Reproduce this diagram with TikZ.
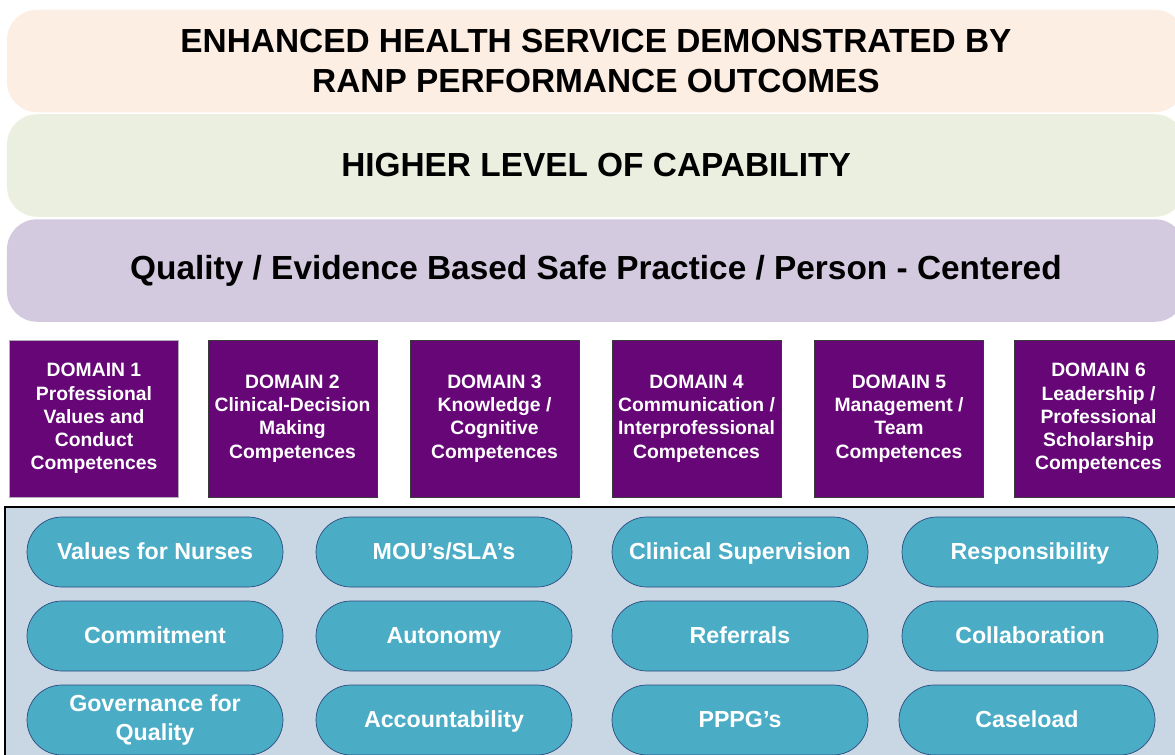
\documentclass[tikz,border=0pt]{standalone}
\usepackage{fontspec}
\setmainfont{Liberation Sans}
\usepackage{tikz}

\definecolor{bandpeach}{HTML}{FDEEE4}
\definecolor{bandgreen}{HTML}{EBEFDF}
\definecolor{bandlilac}{HTML}{D3CAE0}
\definecolor{domainfill}{HTML}{660677}
\definecolor{domainedge}{HTML}{3A3A3A}
\definecolor{panelfill}{HTML}{C9D6E4}
\definecolor{pillfill}{HTML}{4BACC6}
\definecolor{pilledge}{HTML}{2B4C7E}

\tikzset{
  band/.style={rectangle, rounded corners=0.6cm, minimum width=23.56cm, minimum height=2.05cm, align=center, font=\fontsize{19}{22.7}\selectfont\bfseries},
  domainbox/.style={draw=domainedge, fill=domainfill, rectangle, minimum width=3.38cm, minimum height=3.14cm, inner sep=1pt, align=center, text=white, font=\fontsize{11}{13.2}\selectfont\bfseries},
  pill/.style={draw=pilledge, fill=pillfill, rounded corners=0.7cm, minimum width=5.12cm, minimum height=1.4cm, inner sep=1pt, align=center, text=white, text height=1.85ex, text depth=0.3ex, font=\fontsize{13.2}{17}\selectfont\bfseries}
}

\begin{document}
\begin{tikzpicture}
  \useasboundingbox (0,0) rectangle (23.5,-15.1);
  \clip (0,0) rectangle (23.5,-15.1);

  % outcome bands
  \node[band, fill=bandpeach] (outcomes) at (11.92,-1.22) {ENHANCED HEALTH SERVICE DEMONSTRATED BY\\RANP PERFORMANCE OUTCOMES};
  \node[band, fill=bandgreen] (capability) at (11.92,-3.31) {HIGHER LEVEL OF CAPABILITY};
  \node[band, fill=bandlilac] (practice) at (11.92,-5.41) {Quality / Evidence Based Safe Practice / Person - Centered};

  % domains
  \node[domainbox, draw=bandlilac!60!gray] (dom1) at (1.88,-8.37) {DOMAIN 1\\Professional\\Values and\\Conduct\\Competences};
  \node[domainbox] (dom2) at (5.85,-8.37) {DOMAIN 2\\Clinical-Decision\\Making\\Competences};
  \node[domainbox] (dom3) at (9.89,-8.37) {DOMAIN 3\\Knowledge /\\Cognitive\\Competences};
  \node[domainbox] (dom4) at (13.93,-8.37) {DOMAIN 4\\Communication /\\Interprofessional\\Competences};
  \node[domainbox] (dom5) at (17.98,-8.37) {DOMAIN 5\\Management /\\Team\\Competences};
  \node[domainbox] (dom6) at (21.97,-8.37) {DOMAIN 6\\Leadership /\\Professional\\Scholarship\\Competences};

  % competence panel
  \draw[fill=panelfill, line width=0.9pt] (0.1,-10.14) rectangle (23.9,-15.5);

  \node[pill] (nurses) at (3.10,-11.04) {Values for Nurses};
  \node[pill] (commit) at (3.10,-12.72) {Commitment};
  \node[pill, text height=, text depth=] (govern) at (3.10,-14.40) {Governance for\\Quality};

  \node[pill] (mou) at (8.88,-11.04) {MOU’s/SLA’s};
  \node[pill] (auton) at (8.88,-12.72) {Autonomy};
  \node[pill] (account) at (8.88,-14.40) {Accountability};

  \node[pill] (superv) at (14.80,-11.04) {Clinical Supervision};
  \node[pill] (refer) at (14.80,-12.72) {Referrals};
  \node[pill] (pppg) at (14.80,-14.40) {PPPG’s};

  \node[pill] (respons) at (20.60,-11.04) {Responsibility};
  \node[pill] (collab) at (20.60,-12.72) {Collaboration};
  \node[pill] (case) at (20.54,-14.40) {Caseload};
\end{tikzpicture}
\end{document}
